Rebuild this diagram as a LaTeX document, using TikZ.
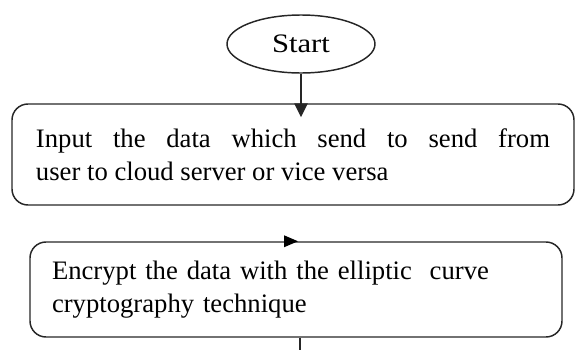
\documentclass[tikz,border=0pt]{standalone}
\usepackage{fontspec}
\setmainfont{Liberation Serif}
\newfontfamily\startfont{Liberation Serif}[FakeStretch=1.15]
\usetikzlibrary{shapes.geometric,arrows.meta}
\tikzset{
  flowbox/.style={draw=black!85, line width=1.1pt, rounded corners=12pt, align=justify,
    font=\fontsize{20}{24.75}\selectfont, inner ysep=0pt},
  term/.style={draw=black!85, line width=1.1pt, ellipse, minimum width=111pt, minimum height=43.5pt,
    inner sep=0pt, font=\startfont\fontsize{20}{24}\selectfont},
  conn/.style={line width=1.1pt, black!85}
}
\begin{document}
\begin{tikzpicture}[x=0.75pt,y=-0.75pt]
\useasboundingbox (0,0) rectangle (579,350);
\node[term] (start) at (301,44) {Start};
\node[flowbox, text width=385.5pt, inner xsep=18pt, minimum height=75.75pt] (box1) at (293,154.5)
  {Input the data which send to send from\linebreak user to cloud server or vice versa};
\node[flowbox, align=left, text width=366pt, inner xsep=16.5pt, minimum height=71.25pt] (box2) at (296,289.5)
  {Encrypt the data with the elliptic\ \ curve\\cryptography technique};
\draw[conn, -{Triangle[length=10.5pt,width=10pt]}] (start.south) -- ([yshift=-10.5pt]start.south |- box1.north);
\fill[black] ([xshift=1.5pt]box2.north) -- ([xshift=-9pt,yshift=4.5pt]box2.north) -- ([xshift=-9pt,yshift=-4.5pt]box2.north) -- cycle;
\coordinate (bot) at (300,350);
\draw[conn] (bot |- box2.south) -- (bot);
\end{tikzpicture}
\end{document}
